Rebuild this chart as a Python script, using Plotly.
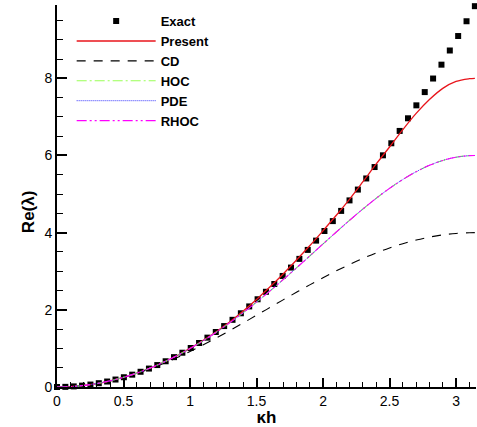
import plotly.graph_objects as go

# Exact: discrete points
kh_exact = [0.0, 0.0628, 0.1257, 0.1885, 0.2513, 0.3142, 0.3770, 0.4398, 0.5027, 0.5655,
            0.6283, 0.6912, 0.7540, 0.8168, 0.8796, 0.9425, 1.0053, 1.0681, 1.1310, 1.1938,
            1.2566, 1.3195, 1.3823, 1.4451, 1.5080, 1.5708, 1.6336, 1.6965, 1.7593, 1.8221,
            1.8850, 1.9478, 2.0106, 2.0735, 2.1363, 2.1991, 2.2619, 2.3248, 2.3876, 2.4504,
            2.5133, 2.5761, 2.6389, 2.7018, 2.7646, 2.8274, 2.8903, 2.9531, 3.0159, 3.0788,
            3.1416]
re_exact = [0.0, 0.0039, 0.0158, 0.0355, 0.0632, 0.0987, 0.1421, 0.1934, 0.2527, 0.3198,
            0.3948, 0.4777, 0.5685, 0.6672, 0.7738, 0.8883, 1.0106, 1.1409, 1.2791, 1.4251,
            1.5791, 1.7410, 1.9108, 2.0884, 2.2740, 2.4674, 2.6688, 2.8781, 3.0952, 3.3203,
            3.5531, 3.7940, 4.0428, 4.2994, 4.5638, 4.8362, 5.1164, 5.4046, 5.7006, 6.0046,
            6.3165, 6.6363, 6.9640, 7.2995, 7.6430, 7.9944, 8.3536, 8.7208, 9.0958, 9.4788,
            9.8696]

# Curves
kh_curve = [0.0, 0.1, 0.2, 0.3, 0.4, 0.5, 0.6, 0.7, 0.8, 0.9, 1.0, 1.1, 1.2, 1.3, 1.4, 1.5,
            1.6, 1.7, 1.8, 1.9, 2.0, 2.1, 2.2, 2.3, 2.4, 2.5, 2.6, 2.7, 2.8, 2.9, 3.0, 3.1,
            3.1416]
re_present = [0.0, 0.01, 0.04, 0.09, 0.16, 0.25, 0.36, 0.49, 0.64, 0.81, 1.00, 1.21, 1.44,
              1.69, 1.97, 2.27, 2.59, 2.93, 3.29, 3.66, 4.05, 4.45, 4.87, 5.32, 5.78, 6.22,
              6.67, 7.09, 7.45, 7.74, 7.92, 7.99, 8.00]
re_cd = [0.0, 0.010, 0.040, 0.089, 0.158, 0.245, 0.349, 0.470, 0.607, 0.757, 0.919, 1.093,
         1.275, 1.465, 1.660, 1.859, 2.058, 2.258, 2.454, 2.647, 2.832, 3.010, 3.177, 3.333,
         3.475, 3.602, 3.714, 3.808, 3.884, 3.942, 3.980, 3.998, 4.000]
re_hoc = [0.0, 0.010, 0.040, 0.090, 0.160, 0.250, 0.360, 0.490, 0.639, 0.808, 0.996, 1.202,
          1.427, 1.669, 1.927, 2.199, 2.485, 2.781, 3.086, 3.395, 3.707, 4.017, 4.321, 4.614,
          4.891, 5.148, 5.378, 5.579, 5.744, 5.871, 5.955, 5.996, 6.000]
re_pde = list(re_hoc)
re_rhoc = list(re_hoc)

x_ticks = [0, 0.5, 1, 1.5, 2, 2.5, 3]
x_tick_labels = ["0", "0.5", "1", "1.5", "2", "2.5", "3"]
y_ticks = [0, 2, 4, 6, 8]
y_tick_labels = ["0", "2", "4", "6", "8"]

FONT = "Liberation Sans, Arial, Helvetica, sans-serif"

fig = go.Figure()
fig.add_trace(go.Scatter(x=kh_exact, y=re_exact, mode="markers", name="Exact", cliponaxis=False,
                         marker=dict(symbol="square", size=6, color="black")))
fig.add_trace(go.Scatter(x=kh_curve, y=re_present, mode="lines", name="Present",
                         line=dict(color="#E8141B", width=1.3, shape="spline")))
fig.add_trace(go.Scatter(x=kh_curve, y=re_cd, mode="lines", name="CD",
                         line=dict(color="black", width=1.1, dash="9px,8px", shape="spline")))
fig.add_trace(go.Scatter(x=kh_curve, y=re_hoc, mode="lines", name="HOC",
                         line=dict(color="#99FF55", width=1.1, dash="10px,3px,2px,3px", shape="spline")))
fig.add_trace(go.Scatter(x=kh_curve, y=re_pde, mode="lines", name="PDE",
                         line=dict(color="#3333FF", width=1.0, dash="1px,1px", shape="spline")))
fig.add_trace(go.Scatter(x=kh_curve, y=re_rhoc, mode="lines", name="RHOC",
                         line=dict(color="#FF00FF", width=1.1, dash="10px,3px,2px,3px,2px,3px", shape="spline")))

fig.update_layout(
    width=477, height=427,
    margin=dict(l=57, r=1, t=5, b=40, autoexpand=False),
    paper_bgcolor="white", plot_bgcolor="white",
    font=dict(family=FONT, color="black", size=14),
    showlegend=True,
    legend=dict(x=0.035, y=0.997, xanchor="left", yanchor="top",
                bgcolor="rgba(0,0,0,0)", itemwidth=79, tracegroupgap=0,
                font=dict(family=FONT, size=13, color="black", weight="bold")),
    annotations=[dict(text="Re(λ)", xref="paper", yref="paper", x=-0.069, y=0.458,
                      xanchor="center", yanchor="middle", textangle=-90, showarrow=False,
                      font=dict(family=FONT, size=17, color="black", weight="bold"))],
)
fig.update_xaxes(
    range=[0, 3.15], tickmode="array", tickvals=x_ticks, ticktext=x_tick_labels,
    ticks="inside", ticklen=9, tickwidth=1.5, tickcolor="black", automargin=False,
    showline=True, linecolor="black", linewidth=2, showgrid=False, zeroline=False,
    minor=dict(dtick=0.1, ticks="inside", ticklen=5, tickwidth=1, tickcolor="black", showgrid=False),
    title=dict(text="κh", font=dict(family=FONT, size=17, weight="bold"), standoff=0),
    tickfont=dict(size=14),
)
fig.update_yaxes(
    range=[0, 9.9], tickmode="array", tickvals=y_ticks, ticktext=y_tick_labels,
    ticks="inside", ticklen=10, tickwidth=1.5, tickcolor="black", automargin=False,
    showline=True, linecolor="black", linewidth=2, showgrid=False, zeroline=False,
    minor=dict(dtick=0.5, ticks="inside", ticklen=6, tickwidth=1, tickcolor="black", showgrid=False),
    tickfont=dict(size=14),
)

fig.write_html("out.html", config={"displayModeBar": False},
               post_script="document.body.style.margin='0';document.body.style.overflow='hidden';")
